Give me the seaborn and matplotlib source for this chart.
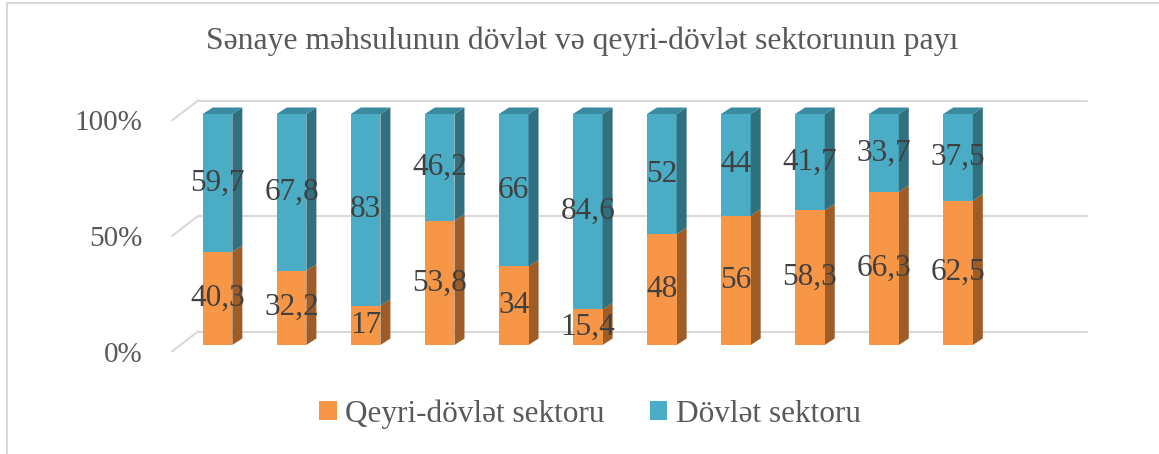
import numpy as np
import pandas as pd
import matplotlib
matplotlib.use("Agg")
import matplotlib.pyplot as plt
import matplotlib.transforms as mtransforms
from matplotlib.patches import Polygon, Patch
from matplotlib.lines import Line2D
import seaborn as sns

# ---------------- data ----------------
categories = ["1", "2", "3", "4", "5", "6", "7", "8", "9", "10", "11"]
qeyri = [40.3, 32.2, 17, 53.8, 34, 15.4, 48, 56, 58.3, 66.3, 62.5]
dovlet = [59.7, 67.8, 83, 46.2, 66, 84.6, 52, 44, 41.7, 33.7, 37.5]
yticks = [0, 50, 100]
ytick_labels = ["0%", "50%", "100%"]
title = "Sənaye məhsulunun dövlət və qeyri-dövlət sektorunun payı"
series_names = ["Qeyri-dövlət sektoru", "Dövlət sektoru"]

# ---------------- style ----------------
ORANGE = "#F79646"
ORANGE_SIDE = "#9E5C26"
BLUE = "#4BACC6"
BLUE_SIDE = "#31707F"
BLUE_TOP = "#3A8AA0"
GRID = "#D9D9D9"
LABEL = "#404040"
TEXT = "#595959"

sns.set_theme(style="white")
plt.rcParams['font.family'] = ['Liberation Serif', 'DejaVu Serif']

W, H = 1159, 454
fig = plt.figure(figsize=(W / 100, H / 100), dpi=100)
fig.patch.set_facecolor("white")

n_slots = 12
left_px = 180.5
slot_px = 74.05
y0_px_from_top = 345
plot_h_px = 231
ax = fig.add_axes([left_px / W, (H - y0_px_from_top) / H,
                   n_slots * slot_px / W, plot_h_px / H])
ax.patch.set_alpha(0)

df = pd.DataFrame({"cat": categories, "q": qeyri, "d": dovlet})
df["total"] = df["q"] + df["d"]

sns.barplot(data=df, x="cat", y="total", color=BLUE, saturation=1, width=0.4,
            errorbar=None, linewidth=0, ax=ax, zorder=3)
sns.barplot(data=df, x="cat", y="q", color=ORANGE, saturation=1, width=0.4,
            errorbar=None, linewidth=0, ax=ax, zorder=4)

ax.set_xlim(-0.5, n_slots - 0.5)
ax.set_ylim(0, 100)
for s in ax.spines.values():
    s.set_visible(False)
ax.set_xticks([])
ax.set_xlabel("")
ax.set_ylabel("")
ax.grid(False)

# pixel -> data conversion
px_x = 1.0 / slot_px
px_y = 100.0 / plot_h_px

# 3D depth of bars
bdx, bdy = 10 * px_x, 6.5 * px_y
n = len(categories)
blue_bars = ax.patches[:n]
orange_bars = ax.patches[n:2 * n]
for i, (bb, ob) in enumerate(zip(blue_bars, orange_bars)):
    x = bb.get_x()
    w = bb.get_width()
    q = ob.get_height()
    tot = bb.get_height()
    # orange side
    ax.add_patch(Polygon([(x + w, 0), (x + w + bdx, bdy), (x + w + bdx, q + bdy), (x + w, q)],
                         closed=True, facecolor=ORANGE_SIDE, edgecolor="none", zorder=3.5, clip_on=False))
    # blue side
    ax.add_patch(Polygon([(x + w, q), (x + w + bdx, q + bdy), (x + w + bdx, tot + bdy), (x + w, tot)],
                         closed=True, facecolor=BLUE_SIDE, edgecolor="none", zorder=3.5, clip_on=False))
    # top
    ax.add_patch(Polygon([(x, tot), (x + bdx, tot + bdy), (x + w + bdx, tot + bdy), (x + w, tot)],
                         closed=True, facecolor=BLUE_TOP, edgecolor="none", zorder=3.5, clip_on=False))
    cx = x + w / 2
    ax.text(cx, q / 2, f"{qeyri[i]:g}".replace(".", ","), ha="center", va="center",
            fontsize=22.5, color=LABEL, zorder=10)
    ax.text(cx, q + (tot - q) / 2, f"{dovlet[i]:g}".replace(".", ","), ha="center", va="center",
            fontsize=22.5, color=LABEL, zorder=10)

# floor/back wall gridlines
fx0, fy0 = -8.5 * px_x, -6.5 * px_y
bx0, by0 = 17.5 * px_x, 13.5 * px_y
xl, xr = -0.5, n_slots - 0.5
for yv in yticks:
    ax.add_line(Line2D([xl + fx0, xl + bx0], [yv + fy0, yv + by0], color=GRID, lw=1.5,
                       zorder=1, clip_on=False))
    ax.add_line(Line2D([xl + bx0, xr + bx0], [yv + by0, yv + by0], color=GRID, lw=1.5,
                       zorder=1, clip_on=False))

ax.set_yticks(yticks)
ax.set_yticklabels(ytick_labels)
ax.tick_params(axis="y", length=0, pad=27.5, labelsize=21, labelcolor=TEXT)
shift = mtransforms.ScaledTranslation(0, -6.5 / 100, fig.dpi_scale_trans)
for lab in ax.get_yticklabels():
    lab.set_transform(lab.get_transform() + shift)

# title
fig.text(582 / W, (H - 49) / H, title, ha="center", va="baseline",
         fontsize=22.8, color=TEXT)

# legend
handles = [Patch(facecolor=ORANGE, edgecolor="none"), Patch(facecolor=BLUE, edgecolor="none")]
fig.legend(handles=handles, labels=series_names, loc="center",
           bbox_to_anchor=(590 / W, 1 - 414 / H), ncol=2, frameon=False,
           fontsize=22.5, handlelength=0.56, handleheight=0.56, handletextpad=0.26,
           columnspacing=1.45, labelcolor=TEXT)

# chart border (top and left)
fig.add_artist(Line2D([7 / W, 1], [1 - 2.5 / H, 1 - 2.5 / H], transform=fig.transFigure,
                      color=GRID, lw=1.5))
fig.add_artist(Line2D([7 / W, 7 / W], [0, 1 - 2.5 / H], transform=fig.transFigure,
                      color=GRID, lw=1.5))

fig.savefig("out.png", dpi=100)
